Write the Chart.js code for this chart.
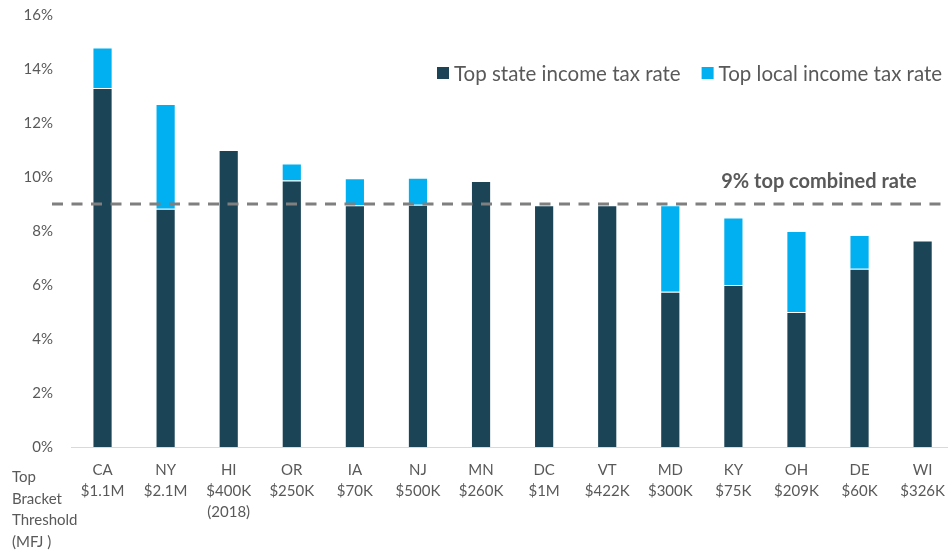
<!DOCTYPE html>
<html lang="en">

<head>
    <meta charset="UTF-8">
    <title>Top combined income tax rates</title>
    <script src="https://cdn.jsdelivr.net/npm/chart.js"></script>
    <style>
        html, body {
            margin: 0;
            padding: 0;
            background: #fff;
            overflow: hidden;
        }
        #wrap {
            width: 958px;
            height: 550px;
        }
    </style>
</head>

<body>
    <div id="wrap">
        <canvas id="taxes" width="958" height="550"></canvas>
    </div>
    <script>
        const states = ['CA', 'NY', 'HI', 'OR', 'IA', 'NJ', 'MN', 'DC', 'VT', 'MD', 'KY', 'OH', 'DE', 'WI'];
        const thresholds = ['$1.1M', '$2.1M', '$400K', '$250K', '$70K', '$500K', '$260K', '$1M', '$422K', '$300K', '$75K', '$209K', '$60K', '$326K'];
        const thresholdNotes = ['', '', '(2018)', '', '', '', '', '', '', '', '', '', '', ''];
        const stateRate = [13.3, 8.82, 11.0, 9.87, 8.95, 8.97, 9.85, 8.95, 8.95, 5.75, 6.0, 5.0, 6.6, 7.65];
        const localRate = [1.5, 3.88, null, 0.63, 1.0, 1.0, null, null, null, 3.2, 2.5, 3.0, 1.25, null];
        const yTicks = [0, 2, 4, 6, 8, 10, 12, 14, 16];
        const combinedRate = 9;

        const grey = '#595959';
        const font = 'Lato, "Open Sans", sans-serif';

        const labels = states.map((s, i) => {
            const lines = [s, thresholds[i]];
            if (thresholdNotes[i]) lines.push(thresholdNotes[i]);
            return lines;
        });

        // dashed 9% line, its label, the custom legend and the row caption
        const extras = {
            id: 'extras',
            afterDatasetsDraw(chart) {
                const ctx = chart.ctx;
                const area = chart.chartArea;
                const y = chart.scales.y.getPixelForValue(combinedRate);

                ctx.save();
                ctx.strokeStyle = '#7f7f7f';
                ctx.lineWidth = 3;
                ctx.setLineDash([11, 8.5]);
                ctx.beginPath();
                ctx.moveTo(area.left - 19, y);
                ctx.lineTo(chart.width, y);
                ctx.stroke();
                ctx.setLineDash([]);

                ctx.fillStyle = grey;
                ctx.font = 'bold 20px ' + font;
                ctx.textAlign = 'center';
                ctx.textBaseline = 'middle';
                ctx.fillText(combinedRate + '% top combined rate', 819, y - 22);

                // legend
                ctx.font = '20.5px ' + font;
                ctx.textAlign = 'left';
                let x = 437;
                chart.data.datasets.forEach(ds => {
                    ctx.fillStyle = ds.backgroundColor;
                    ctx.fillRect(x, 67, 12, 12);
                    ctx.fillStyle = grey;
                    ctx.fillText(ds.label, x + 17, 74);
                    x += 17 + ctx.measureText(ds.label).width + 21;
                });

                // caption for the threshold row
                ctx.font = '15px ' + font;
                ['Top', 'Bracket', 'Threshold', '(MFJ )'].forEach((t, i) => {
                    ctx.fillText(t, 12, 477 + i * 21.7);
                });
                ctx.restore();
            }
        };

        new Chart(document.getElementById('taxes'), {
            type: 'bar',
            data: {
                labels: labels,
                datasets: [
                    {
                        label: 'Top state income tax rate',
                        data: stateRate,
                        backgroundColor: '#1b4557',
                        borderColor: 'rgba(255,255,255,0.35)',
                        borderWidth: 1,
                        barPercentage: 0.32,
                        categoryPercentage: 1
                    },
                    {
                        label: 'Top local income tax rate',
                        data: localRate,
                        backgroundColor: '#00b0f0',
                        borderColor: 'rgba(255,255,255,0.35)',
                        borderWidth: 1,
                        barPercentage: 0.32,
                        categoryPercentage: 1
                    }
                ]
            },
            options: {
                responsive: false,
                animation: false,
                layout: {
                    padding: { left: 0, top: 15, right: 0, bottom: 0 }
                },
                plugins: {
                    legend: { display: false },
                    tooltip: { enabled: false }
                },
                scales: {
                    x: {
                        stacked: true,
                        grid: { display: false, drawTicks: false },
                        border: { display: true, color: '#d9d9d9', width: 1 },
                        ticks: {
                            color: grey,
                            padding: 13,
                            maxRotation: 0,
                            autoSkip: false,
                            font: { family: font, size: 15, lineHeight: 1.4 }
                        },
                        afterFit(scale) {
                            scale.height = 103;
                        }
                    },
                    y: {
                        stacked: true,
                        min: yTicks[0],
                        max: yTicks[yTicks.length - 1],
                        grid: { display: false, drawTicks: false },
                        border: { display: false },
                        afterBuildTicks(scale) {
                            scale.ticks = yTicks.map(v => ({ value: v }));
                        },
                        ticks: {
                            color: grey,
                            padding: 18,
                            font: { family: font, size: 15 },
                            callback: v => v + '%'
                        },
                        afterFit(scale) {
                            scale.width = 71;
                            scale.paddingTop = 0;
                            scale.paddingBottom = 0;
                        }
                    }
                }
            },
            plugins: [extras]
        });
    </script>
</body>

</html>
